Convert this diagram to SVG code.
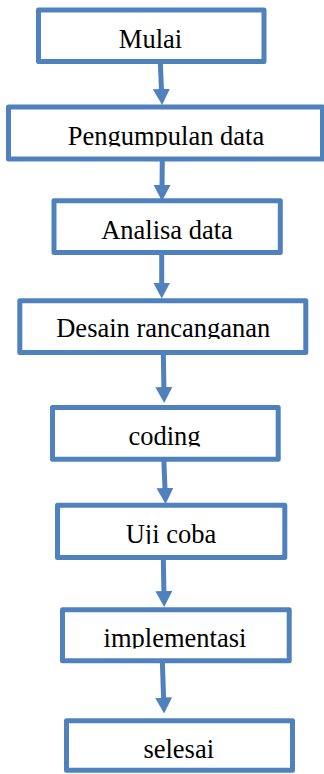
<svg xmlns="http://www.w3.org/2000/svg" width="324" height="774" viewBox="0 0 324 774">
  <style>
    .box { fill: #ffffff; stroke: #4F81BD; stroke-width: 5; stroke-linejoin: round; }
    .label { font-family: "Liberation Serif", "Times New Roman", serif; font-size: 26.5px; fill: #000000; text-anchor: middle; }
    .flow { fill: none; stroke: #4F81BD; stroke-width: 5; marker-end: url(#head); }
  </style>
  <defs>
    <marker id="head" markerUnits="userSpaceOnUse" viewBox="0 0 16 17" markerWidth="16" markerHeight="17" refX="6" refY="8.5" orient="auto">
      <polygon points="0,0 16,8.5 0,17" fill="#4F81BD"/>
    </marker>
    <!-- text frames cut the glyphs just under the baseline -->
    <clipPath id="c2"><rect x="10" y="109" width="310" height="37.5"/></clipPath>
    <clipPath id="c3"><rect x="56" y="203" width="222" height="38"/></clipPath>
    <clipPath id="c4"><rect x="22" y="303" width="282" height="36"/></clipPath>
    <clipPath id="c5"><rect x="55" y="410" width="221" height="36.5"/></clipPath>
    <clipPath id="c6"><rect x="60" y="507" width="222" height="37"/></clipPath>
    <clipPath id="c7"><rect x="65" y="612" width="222" height="36.5"/></clipPath>
  </defs>

  <rect width="324" height="774" fill="#ffffff"/>

  <g id="connectors">
    <path class="flow" d="M160.3,61.5 L161.7,95"/>
    <path class="flow" d="M162.3,159 L162,191"/>
    <path class="flow" d="M161.7,252.5 L161.7,288.5"/>
    <path class="flow" d="M163.3,352.5 L164,393"/>
    <path class="flow" d="M163.8,459.2 L165.2,494"/>
    <path class="flow" d="M163.3,557.5 L164,597"/>
    <path class="flow" d="M162.3,660.8 L163.8,703.5"/>
  </g>

  <g id="mulai">
    <rect class="box" x="38.5" y="10" width="225.5" height="51.5"/>
    <text class="label" x="150.5" y="48">Mulai</text>
  </g>

  <g id="pengumpulan-data">
    <rect class="box" x="8.5" y="107" width="314" height="52"/>
    <text class="label" x="166" y="145" clip-path="url(#c2)">Pengumpulan data</text>
  </g>

  <g id="analisa-data">
    <rect class="box" x="54" y="200.8" width="226.3" height="51.7"/>
    <text class="label" x="167" y="239.3" clip-path="url(#c3)">Analisa data</text>
  </g>

  <g id="desain-rancanganan">
    <rect class="box" x="19.8" y="300.8" width="286" height="51.7"/>
    <text class="label" x="163.3" y="337.3" clip-path="url(#c4)">Desain rancanganan</text>
  </g>

  <g id="coding">
    <rect class="box" x="52.5" y="407.5" width="225.7" height="51.7"/>
    <text class="label" x="164.5" y="445" clip-path="url(#c5)">coding</text>
  </g>

  <g id="uji-coba">
    <rect class="box" x="57.5" y="505.2" width="227.3" height="52.3"/>
    <text class="label" x="171" y="542.7" clip-path="url(#c6)">Uji coba</text>
  </g>

  <g id="implementasi">
    <rect class="box" x="62.5" y="609.8" width="226.7" height="51"/>
    <text class="label" x="175" y="646.7" clip-path="url(#c7)">implementasi</text>
  </g>

  <g id="selesai">
    <rect class="box" x="66.5" y="720.8" width="226" height="49.4"/>
    <text class="label" x="178.7" y="758.3">selesai</text>
  </g>
</svg>
